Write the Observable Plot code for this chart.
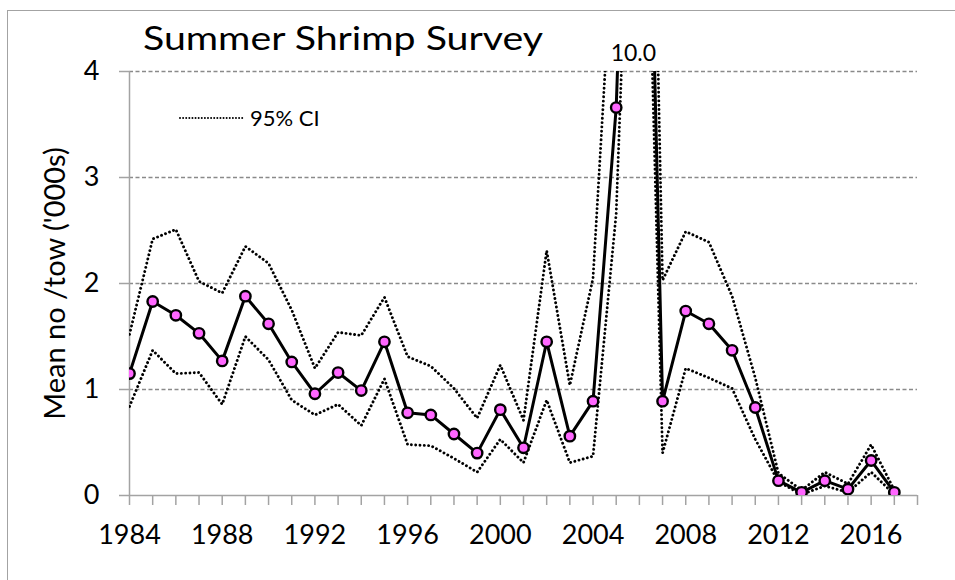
<!DOCTYPE html>
<html>
<head>
<meta charset="utf-8">
<script src="https://cdn.jsdelivr.net/npm/d3@7"></script>
<script src="https://cdn.jsdelivr.net/npm/@observablehq/plot@0.6"></script>
<style>
  html, body { margin: 0; padding: 0; background: #fff; }
  #wrap { position: relative; width: 955px; height: 580px; overflow: hidden; font-family: Lato, "Open Sans", sans-serif; }
  #border { position: absolute; left: 7px; top: 10px; right: -5px; bottom: -5px; border-left: 1.5px solid #a3a3a3; border-top: 1.5px solid #a3a3a3; pointer-events: none; }
  #title { position: absolute; left: 143px; top: 21px; font-size: 33px; line-height: 1; color: #000; white-space: nowrap; transform: scaleX(1.19); transform-origin: 0 0; }
  #legend { position: absolute; left: 178px; top: 107px; display: flex; align-items: center; font-size: 22px; line-height: 1; color: #000; }
  #legend svg { margin-right: 5px; }
  #chart { position: absolute; left: 0; top: 0; }
</style>
</head>
<body>
<div id="wrap">
  <div id="chart"></div>
  <div id="border"></div>
  <div id="title">Summer Shrimp Survey</div>
  <div id="legend"><svg width="67" height="6"><line x1="2" y1="3" x2="66" y2="3" stroke="#000" stroke-width="2" stroke-linecap="round" stroke-dasharray="0.01,3.1"></line></svg><span>95% CI</span></div>
</div>
<script>
const years = [1984,1985,1986,1987,1988,1989,1990,1991,1992,1993,1994,1995,1996,1997,1998,1999,2000,2001,2002,2003,2004,2005,2006,2007,2008,2009,2010,2011,2012,2013,2014,2015,2016,2017];
const meanValues = [1.15,1.83,1.70,1.53,1.27,1.88,1.62,1.26,0.96,1.16,0.99,1.45,0.78,0.76,0.58,0.40,0.81,0.45,1.45,0.56,0.89,3.66,10.0,0.89,1.74,1.62,1.37,0.83,0.14,0.03,0.14,0.06,0.33,0.03];
const upperCI = [1.52,2.42,2.51,2.02,1.91,2.35,2.19,1.75,1.20,1.54,1.51,1.87,1.31,1.22,1.01,0.73,1.23,0.71,2.31,1.04,2.05,5.8,12.5,2.03,2.49,2.39,1.88,1.11,0.21,0.05,0.22,0.11,0.48,0.05];
const lowerCI = [0.84,1.37,1.15,1.16,0.86,1.50,1.28,0.90,0.76,0.86,0.66,1.10,0.48,0.47,0.35,0.22,0.53,0.31,0.90,0.31,0.37,2.66,8.6,0.40,1.20,1.11,1.01,0.53,0.13,0.01,0.09,0.03,0.22,0.01];
const xTickYears = [1984,1985,1986,1987,1988,1989,1990,1991,1992,1993,1994,1995,1996,1997,1998,1999,2000,2001,2002,2003,2004,2005,2006,2007,2008,2009,2010,2011,2012,2013,2014,2015,2016,2017,2018];
const xLabelYears = [1984,1988,1992,1996,2000,2004,2008,2012,2016];
const yTicks = [0,1,2,3,4];
const yGrid = [1,2,3,4];
const xDomain = [1984, 2018];
const yDomain = [0, 4];
const yLabel = "Mean no /tow ('000s)";

const data = years.map((year, i) => ({year, mean: meanValues[i], upper: upperCI[i], lower: lowerCI[i]}));
const offScale = data.filter(d => d.mean > yDomain[1]);

const axisGray = "#a3a3a3";
const ciStyle = {stroke: "#000", strokeWidth: 2.9, strokeLinecap: "round", strokeDasharray: "0.01,4.3", clip: true};

const chart = Plot.plot({
  width: 955,
  height: 580,
  marginLeft: 129,
  marginRight: 38,
  marginTop: 71,
  marginBottom: 85,
  style: {fontFamily: "Lato, 'Open Sans', sans-serif", fontSize: "27px", background: "transparent", color: "#000", overflow: "visible"},
  x: {domain: xDomain, axis: null},
  y: {domain: yDomain, axis: null},
  marks: [
    Plot.ruleY(yGrid, {stroke: "#8a8a8a", strokeWidth: 1.3, strokeDasharray: "4,2.5"}),
    Plot.axisX({
      ticks: xTickYears, tickSize: 10, tickPadding: 19,
      tickFormat: d => xLabelYears.includes(d) ? String(d) : "",
      stroke: axisGray, strokeWidth: 1.5, fill: "#000", fontSize: 27, label: null
    }),
    Plot.axisY({
      ticks: yTicks, tickSize: 10, tickPadding: 20,
      tickFormat: d => String(d),
      stroke: axisGray, strokeWidth: 1.5, fill: "#000", fontSize: 27,
      label: yLabel, labelAnchor: "center", labelOffset: 85, labelArrow: false
    }),
    Plot.ruleY([yDomain[0]], {stroke: axisGray, strokeWidth: 1.5}),
    Plot.ruleX([xDomain[0]], {stroke: axisGray, strokeWidth: 1.5}),
    Plot.line(data, {x: "year", y: "upper", ...ciStyle}),
    Plot.line(data, {x: "year", y: "lower", ...ciStyle}),
    Plot.line(data, {x: "year", y: "mean", stroke: "#000", strokeWidth: 3, clip: true}),
    Plot.dot(data, {x: "year", y: "mean", r: 5.2, fill: "#ff66ff", stroke: "#000", strokeWidth: 2.4, clip: true}),
    Plot.text(offScale, {x: "year", y: d => Math.min(d.mean, yDomain[1]), text: d => d.mean.toFixed(1), lineAnchor: "bottom", dy: -11, dx: -6, fontSize: 23, fill: "#000"})
  ]
});
// enlarge the y-axis title to match the reference
chart.querySelectorAll("text").forEach(t => { if (t.textContent === yLabel) t.setAttribute("font-size", 29); });
document.getElementById("chart").appendChild(chart);
</script>
</body>
</html>
